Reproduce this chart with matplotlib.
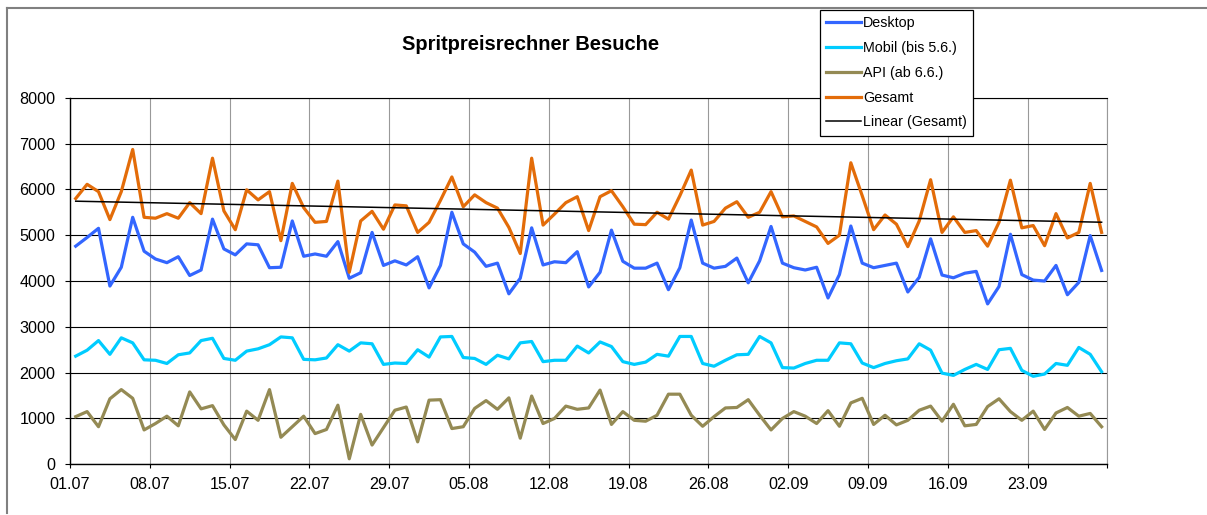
import numpy as np
import matplotlib
matplotlib.use('Agg')
import matplotlib.pyplot as plt
from matplotlib.lines import Line2D

plt.rcParams['font.family'] = ['Liberation Sans', 'DejaVu Sans']

# daily values 01.07 - 29.09
desktop = [4760, 4950, 5150, 3890, 4300, 5390, 4650, 4480, 4400, 4530,
           4120, 4240, 5350, 4700, 4570, 4810, 4790, 4290, 4300, 5310,
           4540, 4590, 4540, 4860, 4060, 4180, 5060, 4340, 4440, 4350,
           4530, 3850, 4340, 5500, 4810, 4630, 4320, 4390, 3720, 4060,
           5160, 4350, 4420, 4400, 4640, 3870, 4190, 5110, 4430, 4280,
           4280, 4390, 3810, 4290, 5330, 4390, 4280, 4320, 4500, 3960,
           4440, 5190, 4390, 4290, 4240, 4300, 3630, 4140, 5200, 4390,
           4290, 4340, 4390, 3760, 4080, 4920, 4130, 4070, 4170, 4210,
           3500, 3880, 5020, 4140, 4020, 4000, 4340, 3700, 3970, 4990,
           4230]
mobil = [2360, 2490, 2700, 2400, 2760, 2650, 2280, 2270, 2200, 2390,
         2430, 2700, 2750, 2310, 2270, 2470, 2520, 2610, 2780, 2760,
         2290, 2280, 2320, 2610, 2470, 2650, 2630, 2180, 2210, 2200,
         2500, 2340, 2780, 2790, 2330, 2310, 2180, 2380, 2300, 2650,
         2680, 2240, 2270, 2270, 2580, 2430, 2670, 2570, 2240, 2180,
         2230, 2400, 2360, 2790, 2790, 2200, 2140, 2270, 2390, 2400,
         2790, 2650, 2110, 2100, 2200, 2270, 2270, 2650, 2630, 2210,
         2110, 2200, 2260, 2300, 2630, 2490, 1990, 1940, 2070, 2180,
         2070, 2500, 2530, 2050, 1920, 1970, 2200, 2160, 2550, 2400,
         2020]
api = [1040, 1150, 820, 1430, 1630, 1440, 750, 890, 1050, 840,
       1580, 1210, 1280, 860, 540, 1160, 960, 1630, 590, 820,
       1050, 670, 760, 1290, 120, 1090, 420, 800, 1180, 1250,
       490, 1400, 1410, 780, 820, 1220, 1390, 1200, 1450, 570,
       1490, 890, 1000, 1270, 1200, 1230, 1620, 870, 1150, 960,
       940, 1070, 1530, 1530, 1070, 830, 1040, 1230, 1240, 1410,
       1070, 750, 1000, 1150, 1050, 890, 1170, 830, 1340, 1440,
       870, 1070, 860, 960, 1180, 1270, 940, 1310, 840, 870,
       1260, 1430, 1150, 960, 1160, 760, 1120, 1240, 1050, 1110,
       820]
gesamt = [5800, 6110, 5950, 5340, 5950, 6870, 5390, 5370, 5470, 5370,
          5710, 5470, 6680, 5530, 5120, 5990, 5770, 5950, 4880, 6130,
          5600, 5280, 5300, 6180, 4190, 5310, 5520, 5130, 5660, 5640,
          5060, 5280, 5760, 6270, 5620, 5880, 5710, 5590, 5170, 4600,
          6680, 5220, 5460, 5710, 5840, 5100, 5840, 5970, 5620, 5240,
          5230, 5500, 5350, 5860, 6420, 5220, 5300, 5590, 5730, 5390,
          5500, 5950, 5400, 5420, 5300, 5180, 4820, 5000, 6580, 5860,
          5120, 5440, 5240, 4750, 5310, 6210, 5060, 5400, 5060, 5100,
          4760, 5280, 6200, 5160, 5210, 4770, 5470, 4940, 5060, 6130,
          5060]
tick_labels = ['01.07', '08.07', '15.07', '22.07', '29.07', '05.08', '12.08',
               '19.08', '26.08', '02.09', '09.09', '16.09', '23.09', '']

n = len(gesamt)
x = np.arange(n) + 0.5  # points sit in the middle of each day slot

fig = plt.figure(figsize=(12.07, 5.15), dpi=100)
ax = fig.add_axes([70 / 1207, 1 - 464.3 / 515, (1107.3 - 70) / 1207, (464.3 - 97.7) / 515])

ax.plot(x, desktop, color='#3366FF', lw=2.3, label='Desktop', solid_joinstyle='round')
ax.plot(x, mobil, color='#00CCFF', lw=2.3, label='Mobil (bis 5.6.)', solid_joinstyle='round')
ax.plot(x, api, color='#948A54', lw=2.3, label='API (ab 6.6.)', solid_joinstyle='round')
ax.plot(x, gesamt, color='#E36C09', lw=2.3, label='Gesamt', solid_joinstyle='round')

k, d = np.polyfit(x, gesamt, 1)
ax.plot(x[[0, -1]], k * x[[0, -1]] + d, color='black', lw=1.1, label='Linear (Gesamt)')

ax.set_xlim(0, n)
ax.set_ylim(0, 8000)
ax.set_xticks(np.arange(0, n + 1, 7))
ax.set_xticklabels(tick_labels)
ax.set_yticks(np.arange(0, 8001, 1000))

ax.grid(axis='y', color='black', lw=0.8)
ax.grid(axis='x', color='#999999', lw=0.8)
ax.set_axisbelow(True)
for s in ['left', 'bottom']:
    ax.spines[s].set_color('black')
    ax.spines[s].set_linewidth(1.0)
ax.spines['top'].set_color('black')
ax.spines['top'].set_linewidth(0.8)
ax.spines['right'].set_color('#999999')
ax.spines['right'].set_linewidth(0.8)
ax.tick_params(axis='both', labelsize=11.6, colors='black', direction='out')
ax.tick_params(axis='y', length=3.6, pad=7)
ax.tick_params(axis='x', length=3, pad=6.5)

fig.text(531 / 1207, 1 - 45 / 515, 'Spritpreisrechner Besuche', ha='center', va='center',
         fontsize=14.5, fontweight='bold')

leg = fig.legend(loc='upper left', bbox_to_anchor=(820 / 1207, 1 - 10 / 515), fontsize=10.3,
                 frameon=True, fancybox=False, edgecolor='black', framealpha=1,
                 handlelength=2.4, handletextpad=0.15, labelspacing=0.75,
                 borderpad=0.45, borderaxespad=0)
leg.get_frame().set_linewidth(0.9)

# outer chart border (only top and left visible)
fig.add_artist(Line2D([7 / 1207, 1.0], [1 - 7.5 / 515] * 2, color='#808080', lw=1.5))
fig.add_artist(Line2D([7 / 1207] * 2, [2 / 515, 1 - 7.5 / 515], color='#808080', lw=1.5))

fig.savefig('out.png', dpi=100)
